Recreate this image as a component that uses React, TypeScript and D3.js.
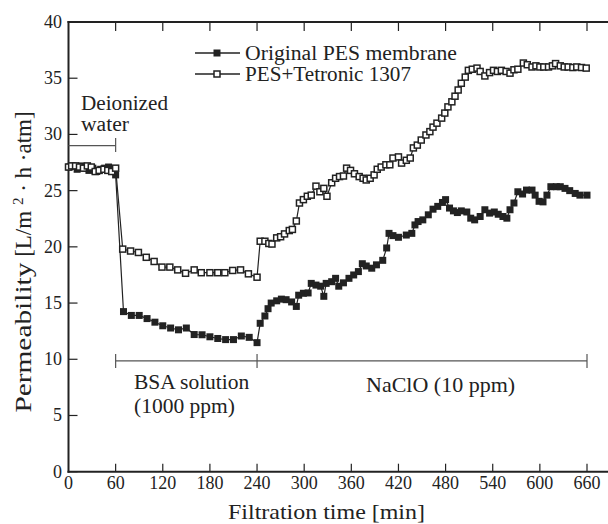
import React from "react";
import * as d3 from "d3";

const xTicks = [0, 60, 120, 180, 240, 300, 360, 420, 480, 540, 600, 660];
const yTicks = [0, 5, 10, 15, 20, 25, 30, 35, 40];

const seriesNames = ["Original PES membrane", "PES+Tetronic 1307"];

const origTime = [1, 6, 11, 16, 21, 26, 31, 36, 41, 46, 51, 56, 60,
  70, 80, 90, 100, 110, 120, 130, 140, 150, 160, 170, 180, 190, 200, 210, 220, 230, 240,
  244, 250, 254, 258, 265, 271, 277, 284, 290, 293, 299, 305, 309, 315, 321, 325, 328, 335, 340, 344, 350, 357, 363, 369, 374, 379, 386, 392, 400, 405, 408, 413, 420,
  430, 437, 441, 445, 451, 458, 464, 470, 476, 480, 485, 490, 495, 500, 507, 512, 517, 524, 530, 536, 542, 547, 553, 558, 562, 567, 572, 578, 583, 590, 594, 599, 604, 609, 614, 621, 626, 632, 638, 645, 651, 660];
const origPerm = [27.1, 27.2, 26.9, 27.2, 27.0, 26.8, 27.0, 26.7, 26.9, 27.0, 27.1, 26.8, 26.4,
  14.24, 13.9, 13.9, 13.62, 13.3, 12.98, 12.78, 12.62, 12.78, 12.2, 12.18, 12.0, 11.85, 11.75, 11.75, 12.07, 11.95, 11.48,
  13.2, 13.85, 14.5, 15.0, 15.2, 15.35, 15.3, 15.1, 14.7, 15.7, 15.87, 15.9, 16.75, 16.6, 16.5, 15.6, 16.75, 16.9, 17.2, 16.5, 16.8, 17.2, 17.5, 17.8, 18.5, 18.3, 18.1, 18.4, 18.8, 19.9, 21.2, 21.0, 20.85,
  21.05, 21.2, 21.95, 22.25, 22.4, 22.85, 23.35, 23.6, 23.95, 24.2, 23.45, 23.2, 23.05, 23.2, 23.1, 22.55, 22.4, 22.7, 23.3, 23.0, 23.1, 22.9, 22.7, 22.55, 23.3, 23.9, 24.9, 24.7, 25.05, 25.05, 24.6, 24.05, 24.0, 24.6, 25.35, 25.35, 25.35, 25.2, 25.0, 24.75, 24.6, 24.6];

const tetTime = [0, 4, 9, 14, 19, 24, 29, 34, 39, 45, 50, 55, 60,
  69, 79, 89, 99, 109, 119, 129, 139, 149, 160, 169, 180, 190, 199, 209, 219, 229, 240,
  244, 250, 255, 259, 265, 270, 275, 281, 285, 290, 294, 299, 304, 309, 315, 320, 325, 329, 335, 340, 345, 350, 354, 359, 364, 370, 375, 379, 384, 389, 393, 398, 404, 409, 413, 420, 424, 430, 435, 439, 444, 449, 455, 460, 464, 469, 475, 479, 483, 488, 492, 496, 500, 505, 509, 514, 520, 524, 530, 536, 541, 546, 551, 557, 562, 567, 572, 579, 584, 590, 595, 600, 605, 611, 616, 620, 626, 631, 636, 642, 647, 653, 659];
const tetPerm = [27.1, 27.2, 27.2, 27.1, 27.0, 27.2, 27.1, 26.7, 26.8, 26.9, 26.8, 26.7, 27.0,
  19.8, 19.63, 19.5, 19.07, 18.7, 18.2, 18.2, 17.95, 17.65, 17.95, 17.7, 17.7, 17.7, 17.7, 17.9, 17.95, 17.6, 17.3,
  20.5, 20.5, 20.3, 20.25, 20.8, 20.9, 21.15, 21.45, 21.55, 22.3, 23.9, 24.2, 24.5, 24.6, 25.4, 24.9, 25.2, 24.5, 25.7, 26.1, 26.25, 26.3, 27.0, 26.8, 26.5, 26.25, 26.1, 25.95, 26.1, 26.4, 26.9, 27.1, 27.3, 27.3, 27.9, 28.0, 27.45, 27.7, 27.9, 28.8, 29.05, 29.5, 29.95, 30.25, 30.65, 31.0, 31.45, 31.9, 32.45, 32.9, 33.4, 33.95, 34.55, 35.1, 35.7, 35.8, 35.9, 35.6, 35.2, 35.5, 35.7, 35.6, 35.7, 35.6, 35.45, 35.75, 35.8, 36.35, 36.2, 36.0, 36.1, 36.0, 36.0, 36.0, 36.1, 36.3, 36.1, 36.0, 36.0, 35.95, 36.0, 35.95, 35.9];

const legendWidths = [212, 166];

const W = 608, H = 524;
const left = 68.5, right = 608, top = 22, bottom = 471.7;

export default function App() {
  const x = d3.scaleLinear().domain([0, 660]).range([68.5, 587]);
  const y = d3.scaleLinear().domain([0, 40]).range([bottom, top]);
  const line = d3.line<[number, number]>().x(d => x(d[0])).y(d => y(d[1]));
  const orig: [number, number][] = origTime.map((t, i) => [t, origPerm[i]]);
  const tet: [number, number][] = tetTime.map((t, i) => [t, tetPerm[i]]);
  const ink = "#222";
  const font = "Liberation Serif, Times New Roman, serif";
  const ms = 6;
  const bracketY = y(9.85);
  const fs = 21.5;
  return (
    <svg width={W} height={H} style={{ position: "absolute", left: 0, top: 0, background: "#fff" }} fontFamily={font}>
      {/* axes */}
      <line x1={left} x2={left} y1={top - 1} y2={bottom + 1} stroke={ink} strokeWidth={2} />
      <line x1={left - 1} x2={right} y1={bottom} y2={bottom} stroke={ink} strokeWidth={2} />
      <line x1={left - 1} x2={right} y1={top} y2={top} stroke={ink} strokeWidth={2} />
      {yTicks.map(v => (
        <g key={"y" + v}>
          <line x1={left} x2={left + 9} y1={y(v)} y2={y(v)} stroke={ink} strokeWidth={1.2} />
          <text x={62} y={y(v) + 6} textAnchor="end" fontSize={18} fill={ink}>{v}</text>
        </g>
      ))}
      {xTicks.map(v => (
        <g key={"x" + v}>
          {v > 0 && <line x1={x(v)} x2={x(v)} y1={bottom} y2={bottom - 8} stroke={ink} strokeWidth={1.2} />}
          {v > 0 && <line x1={x(v)} x2={x(v)} y1={top} y2={top + 9} stroke={ink} strokeWidth={1.2} />}
          <text x={x(v)} y={489} textAnchor="middle" fontSize={18} fill={ink}>{v}</text>
        </g>
      ))}
      <text x={228} y={519} fontSize={22} fill={ink} textLength={197} lengthAdjust="spacingAndGlyphs">Filtration time [min]</text>
      <text transform={`translate(31,262) rotate(-90)`} textAnchor="middle" fontSize={23} fill={ink}>
        <tspan textLength={150} lengthAdjust="spacingAndGlyphs">Permeability</tspan>
        <tspan> [L/m </tspan>
        <tspan dy={-8} fontSize={15}>2</tspan>
        <tspan dy={8}> · h ·atm]</tspan>
      </text>

      {/* annotations */}
      <line x1={left} x2={x(60)} y1={145.7} y2={145.7} stroke="#555" strokeWidth={1.2} />
      <line x1={x(60)} x2={x(60)} y1={138} y2={152} stroke="#555" strokeWidth={1.2} />
      <text x={81} y={110} fontSize={20} fill={ink} textLength={87} lengthAdjust="spacingAndGlyphs">Deionized</text>
      <text x={81} y={131} fontSize={20} fill={ink} textLength={48} lengthAdjust="spacingAndGlyphs">water</text>

      <line x1={x(60)} x2={x(660)} y1={bracketY} y2={bracketY} stroke="#555" strokeWidth={1.2} />
      {[60, 240, 660].map(v => (
        <line key={"b" + v} x1={x(v)} x2={x(v)} y1={bracketY - 7} y2={bracketY + 7} stroke="#555" strokeWidth={1.2} />
      ))}
      <text x={134} y={389} fontSize={fs} fill={ink}>BSA solution</text>
      <text x={134} y={413} fontSize={fs} fill={ink}>(1000 ppm)</text>
      <text x={366} y={392} fontSize={22} fill={ink}>NaClO (10 ppm)</text>

      {/* series */}
      <path d={line(orig) || ""} fill="none" stroke={ink} strokeWidth={1.2} />
      <path d={line(tet) || ""} fill="none" stroke={ink} strokeWidth={1.2} />
      {orig.map((d, i) => (
        <rect key={"o" + i} x={x(d[0]) - ms / 2 - 0.5} y={y(d[1]) - ms / 2 - 0.5} width={ms + 1} height={ms + 1} fill={ink} />
      ))}
      {tet.map((d, i) => (
        <rect key={"t" + i} x={x(d[0]) - ms / 2} y={y(d[1]) - ms / 2} width={ms} height={ms} fill="#fff" stroke={ink} strokeWidth={1.5} />
      ))}

      {/* legend */}
      {seriesNames.map((name, i) => {
        const ly = 53 + i * 21;
        return (
          <g key={name}>
            <line x1={195} x2={240} y1={ly} y2={ly} stroke={ink} strokeWidth={1.5} />
            {i === 0
              ? <rect x={217 - 3.5} y={ly - 3.5} width={7} height={7} fill={ink} />
              : <rect x={217 - 3} y={ly - 3} width={6} height={6} fill="#fff" stroke={ink} strokeWidth={1.5} />}
            <text x={245} y={ly + 7} fontSize={20} fill={ink} textLength={legendWidths[i]} lengthAdjust="spacingAndGlyphs">{name}</text>
          </g>
        );
      })}
    </svg>
  );
}
